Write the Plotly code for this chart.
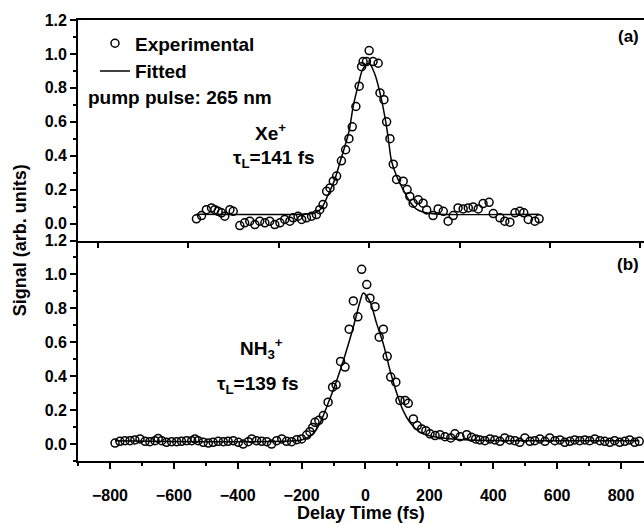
import plotly.graph_objects as go

# (a) Xe+ : delay (fs) and signal
xe_delay = [-573, -556, -540, -523, -512, -501, -490, -479, -462, -451,
            -429, -413, -396, -379, -363, -346, -330, -313, -296, -280,
            -263, -252, -236, -224, -208, -191, -175, -164, -153, -141,
            -130, -119, -108, -92, -78, -67, -56, -44, -33, -25,
            -20, -9, 0, 13, 30, 36, 49, 58, 69, 80,
            91, 113, 126, 135, 146, 163, 179, 191, 212, 229,
            246, 262, 279, 295, 312, 329, 345, 362, 378, 398,
            412, 434, 450, 467, 484, 500, 513, 528, 550, 564]
xe_signal = [0.028, 0.047, 0.082, 0.092, 0.082, 0.072, 0.063, 0.043, 0.082, 0.072,
             -0.012, 0.004, 0.014, -0.006, 0.014, 0.004, 0.014, -0.006, 0.004, 0.024,
             0.014, 0.034, 0.043, 0.024, 0.034, 0.043, 0.053, 0.082, 0.112, 0.19,
             0.21, 0.25, 0.28, 0.37, 0.435, 0.50, 0.57, 0.69, 0.81, 0.925,
             0.955, 0.955, 1.02, 0.955, 0.945, 0.77, 0.73, 0.60, 0.50, 0.35,
             0.26, 0.25, 0.20, 0.16, 0.12, 0.14, 0.12, 0.08, 0.047, 0.086,
             0.072, 0.014, 0.047, 0.092, 0.086, 0.092, 0.098, 0.086, 0.118, 0.125,
             0.059, 0.034, 0.014, 0.008, 0.063, 0.072, 0.063, 0.024, 0.014, 0.028]
xe_fit_delay = [-573, -230, -180, -158, -136, -114, -97, -84, -66, -53,
                -37, -21, 0, 19, 36, 52, 63, 74, 91, 113,
                135, 157, 185, 235, 564]
xe_fit_signal = [0.055, 0.055, 0.062, 0.09, 0.17, 0.26, 0.36, 0.435, 0.55, 0.69,
                 0.81, 0.91, 0.945, 0.88, 0.77, 0.63, 0.51, 0.37, 0.28, 0.20,
                 0.13, 0.085, 0.065, 0.055, 0.055]

# (b) NH3+
nh3_delay = [-784, -769, -753, -737, -722, -706, -690, -675, -659, -649,
             -638, -623, -607, -591, -576, -560, -544, -534, -524, -508,
             -492, -477, -461, -445, -430, -414, -398, -383, -367, -356,
             -341, -325, -309, -294, -278, -262, -247, -231, -215, -200,
             -184, -174, -165, -158, -146, -132, -117, -103, -92, -78,
             -64, -51, -38, -24, -12, 4, 14, 30, 43, 56,
             68, 79, 95, 108, 124, 134, 150, 162, 176, 189,
             202, 218, 233, 249, 267, 280, 296, 317, 332, 345,
             358, 374, 390, 405, 421, 436, 452, 468, 483, 499,
             515, 530, 546, 562, 577, 593, 609, 624, 640, 655,
             671, 687, 702, 718, 734, 749, 765, 780, 796, 812,
             827, 843, 857]
nh3_signal = [0.006, 0.016, 0.02, 0.02, 0.024, 0.03, 0.016, 0.014, 0.02, 0.033,
              0.02, 0.01, 0.014, 0.014, 0.016, 0.02, 0.02, 0.03, 0.02, 0.01,
              0.006, 0.01, 0.016, 0.014, 0.016, 0.02, 0.01, 0.0, 0.014, 0.03,
              0.02, 0.016, 0.014, 0.0, 0.02, 0.03, 0.016, 0.014, 0.026, 0.03,
              0.053, 0.073, 0.098, 0.128, 0.14, 0.168, 0.247, 0.335, 0.349, 0.487,
              0.454, 0.677, 0.844, 0.75, 1.03, 0.94, 0.86, 0.81, 0.63, 0.677,
              0.517, 0.395, 0.365, 0.257, 0.257, 0.24, 0.148, 0.109, 0.089, 0.079,
              0.06, 0.05, 0.055, 0.043, 0.036, 0.06, 0.043, 0.055, 0.04, 0.03,
              0.024, 0.020, 0.030, 0.024, 0.016, 0.036, 0.024, 0.020, 0.010, 0.036,
              0.016, 0.020, 0.030, 0.016, 0.036, 0.020, 0.024, 0.010, 0.016, 0.024,
              0.020, 0.024, 0.020, 0.030, 0.020, 0.016, 0.010, 0.020, 0.010, 0.016,
              0.024, 0.010, 0.016]
nh3_fit_delay = [-784, -205, -185, -164, -142, -117, -90, -64, -38, -17,
                 -7, 14, 35, 56, 77, 98, 118, 139, 171, 223,
                 327, 857]
nh3_fit_signal = [0.02, 0.022, 0.035, 0.06, 0.125, 0.24, 0.375, 0.523, 0.69, 0.84,
                  0.89, 0.84, 0.71, 0.59, 0.434, 0.30, 0.197, 0.128, 0.069, 0.04,
                  0.024, 0.02]

y_ticks = [0.0, 0.2, 0.4, 0.6, 0.8, 1.0, 1.2]
x_ticks = [-800, -600, -400, -200, 0, 200, 400, 600, 800]

FONT = "Liberation Sans, Arial, sans-serif"

fig = go.Figure()

marker = dict(symbol="circle-open", size=8, color="black", line=dict(width=1.5))
fitline = dict(color="black", width=1.5, shape="spline", smoothing=0.8)

fig.add_trace(go.Scatter(x=xe_fit_delay, y=xe_fit_signal, mode="lines", line=fitline,
                         name="Fitted", xaxis="x2", yaxis="y2"))
fig.add_trace(go.Scatter(x=xe_delay, y=xe_signal, mode="markers", marker=marker,
                         name="Experimental", xaxis="x2", yaxis="y2"))
fig.add_trace(go.Scatter(x=nh3_fit_delay, y=nh3_fit_signal, mode="lines", line=fitline,
                         showlegend=False))
fig.add_trace(go.Scatter(x=nh3_delay, y=nh3_signal, mode="markers", marker=marker,
                         showlegend=False))

axis_common = dict(showline=True, linecolor="black", linewidth=1.8, showgrid=False,
                   zeroline=False, ticks="outside", tickcolor="black", tickwidth=1.8,
                   tickfont=dict(family=FONT, size=16, color="black", weight="bold"))
minor_y = dict(ticks="outside", dtick=0.1, tick0=0, ticklen=3,
               tickwidth=1.6, tickcolor="black")

fig.update_layout(
    width=644, height=525,
    margin=dict(l=78, r=0, t=20, b=64),
    paper_bgcolor="white", plot_bgcolor="white",
    font=dict(family=FONT, size=19, color="black", weight="bold"),
    xaxis=dict(axis_common, domain=[0, 1], anchor="y", range=[-900, 872],
               tickvals=x_ticks, ticklen=6, ticklabelstandoff=13,
               minor=dict(ticks="outside", dtick=100, tick0=0, ticklen=3,
                          tickwidth=1.6, tickcolor="black")),
    yaxis=dict(axis_common, domain=[0, 0.5], anchor="x", range=[-0.1, 1.2],
               tickvals=y_ticks, tickformat=".1f", ticklen=6, minor=minor_y),
    xaxis2=dict(axis_common, domain=[0, 1], anchor="y2", range=[-966, 912],
                dtick=300, tick0=0, ticklen=6, showticklabels=False, mirror=True),
    yaxis2=dict(axis_common, domain=[0.5, 1], anchor="x2", range=[-0.1, 1.2],
                tickvals=y_ticks, tickformat=".1f", ticklen=6, minor=minor_y),
    legend=dict(x=0.03, y=0.99, xanchor="left", yanchor="top",
                bgcolor="rgba(0,0,0,0)",
                font=dict(family=FONT, size=19, weight="bold"),
                traceorder="reversed", tracegroupgap=0),
    showlegend=True,
)

annotations = [
    dict(text="pump pulse: 265 nm", xref="paper", yref="paper", x=0.015, y=0.825,
         xanchor="left", yanchor="middle", showarrow=False),
    dict(text="(a)", xref="paper", yref="paper", x=0.995, y=0.9615,
         xanchor="right", yanchor="middle", showarrow=False, font=dict(size=17)),
    dict(text="(b)", xref="paper", yref="paper", x=0.995, y=0.4467,
         xanchor="right", yanchor="middle", showarrow=False, font=dict(size=17)),
    dict(text="Xe<sup>+</sup>", xref="x2", yref="y2", x=-326, y=0.54,
         showarrow=False),
    dict(text="τ<sub>L</sub>=141 fs", xref="x2", yref="y2", x=-316, y=0.38,
         showarrow=False),
    dict(text="NH<sub>3</sub><sup>+</sup>", xref="x", yref="y", x=-324, y=0.565,
         showarrow=False),
    dict(text="τ<sub>L</sub>=139 fs", xref="x", yref="y", x=-337, y=0.35,
         showarrow=False),
    dict(text="Signal (arb. units)", xref="paper", yref="paper", x=-0.103, y=0.5,
         textangle=-90, xanchor="center", yanchor="middle", showarrow=False,
         font=dict(size=18)),
    dict(text="Delay Time (fs)", xref="paper", yref="paper", x=0.5, y=-0.118,
         xanchor="center", yanchor="middle", showarrow=False, font=dict(size=18)),
]
fig.update_layout(annotations=annotations)

# drop the page's default body margin so the figure sits at the window's corner
fig.write_html("out.html", config={"displayModeBar": False},
               post_script="document.body.style.margin='0';")
